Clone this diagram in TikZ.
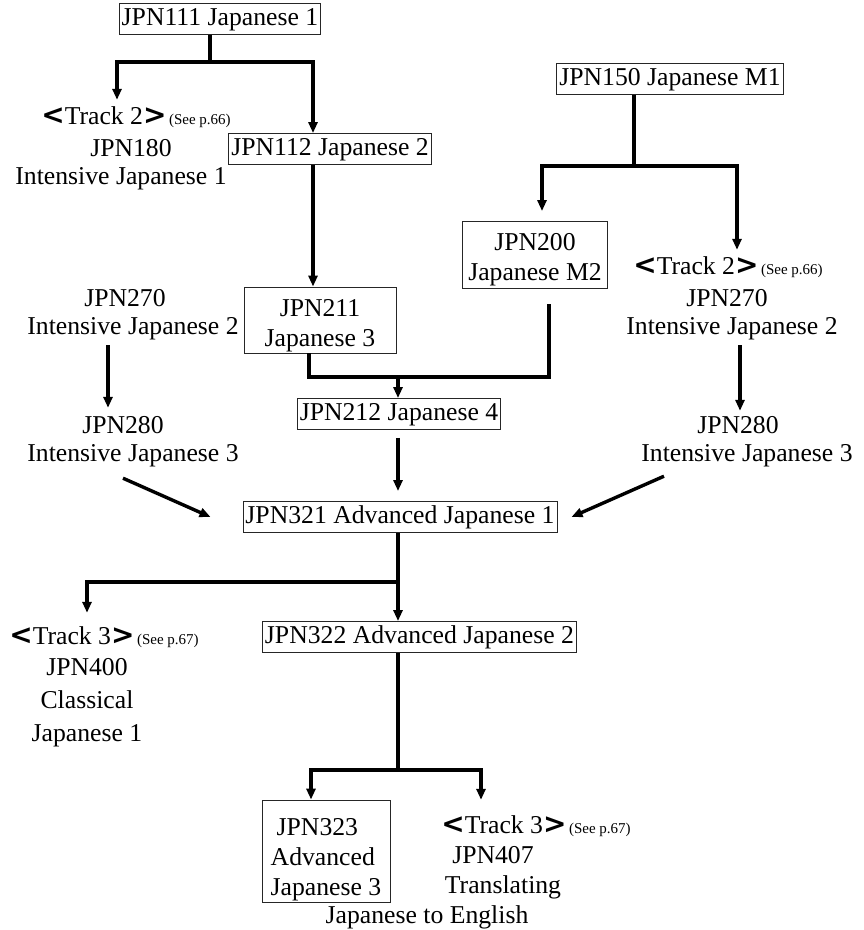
\documentclass[tikz,border=0pt]{standalone}
\usepackage{fontspec}
\setmainfont{Liberation Serif}
\newfontfamily\brkfont{DejaVu Sans}
\usetikzlibrary{arrows.meta,calc}
\newcommand{\Lbrk}{{\brkfont\bfseries\fontsize{28}{30}\selectfont <}}
\newcommand{\Rbrk}{{\brkfont\bfseries\fontsize{28}{30}\selectfont >}}
\newcommand{\seep}[1]{{\fontsize{15}{15}\selectfont\,(See p.#1)}}
\begin{document}
\begin{tikzpicture}[x=1pt,y=-1pt,
  every node/.style={inner sep=0pt, font=\fontsize{25.7}{30}\selectfont},
  txt/.style={text height=18pt, text depth=6pt},
  box/.style={draw=black!85, line width=0.9pt, inner xsep=2.5pt, inner ysep=3.5pt, text height=18pt, text depth=6pt},
  mbox/.style={draw=black!85, line width=0.9pt, align=center},
  conn/.style={line width=3.4pt, line join=miter},
  arr/.style={conn, -{Triangle[length=11pt,width=9pt]}}]
\useasboundingbox (0,0) rectangle (864,930);

% nodes
\node[box] (n111) at (220,19) {JPN111 Japanese 1};
\node[txt] (t2l) at (136,118) {\Lbrk Track 2\Rbrk\seep{66}};
\node[txt] (j180) at (131,150) {JPN180};
\node[txt] (i1) at (121,178) {Intensive Japanese 1};
\node[box] (n112) at (330,149) {JPN112 Japanese 2};
\node[box] (n150) at (670,79) {JPN150 Japanese M1};
\node[mbox, minimum width=145pt, minimum height=67pt] (n200) at (535,255) {\rule{0pt}{26pt}JPN200\\Japanese M2};
\node[txt] (t2r) at (728,268) {\Lbrk Track 2\Rbrk\seep{66}};
\node[txt] (j270r) at (727,300) {JPN270};
\node[txt] (i2r) at (732,328) {Intensive Japanese 2};
\node[txt] (j270l) at (125,300) {JPN270};
\node[txt] (i2l) at (133,328) {Intensive Japanese 2};
\node[mbox, minimum width=152pt, minimum height=66pt] (n211) at (320,320) {\rule{0pt}{28pt}JPN211\\Japanese 3};
\node[box] (n212) at (399,414) {JPN212 Japanese 4};
\node[txt] (j280l) at (123,427) {JPN280};
\node[txt] (i3l) at (133,455) {Intensive Japanese 3};
\node[txt] (j280r) at (738,427) {JPN280};
\node[txt] (i3r) at (747,455) {Intensive Japanese 3};
\node[box] (n321) at (400,517) {JPN321 Advanced Japanese 1};
\node[box] (n322) at (419.5,637) {JPN322 Advanced Japanese 2};
\node[txt] (t3l) at (104,638) {\Lbrk Track 3\Rbrk\seep{67}};
\node[txt] (j400) at (87,669) {JPN400};
\node[txt] (cl) at (87,702) {Classical};
\node[txt] (jp1) at (87,735) {Japanese 1};
\node[mbox, align=left, minimum width=128pt, minimum height=102pt] (n323) at (326,851) {\rule{0pt}{34pt}\hspace{6pt}JPN323\\Advanced\\Japanese 3};
\node[txt] (t3r) at (536,827) {\Lbrk Track 3\Rbrk\seep{67}};
\node[txt] (j407) at (493,857) {JPN407};
\node[txt] (trn) at (503,887) {Translating};
\node[txt] (jte) at (427,917) {Japanese to English};

% helper coordinates
\coordinate (s1) at (210,62);
\coordinate (c313) at (313,0);
\coordinate (s2) at (634,166);
\coordinate (m) at (398,377);
\coordinate (c309) at (309,0);
\coordinate (c549) at (549,0);
\coordinate (c108) at (108,0);
\coordinate (c740) at (740,0);
\coordinate (c398) at (398,0);
\coordinate (s3) at (398,582);
\coordinate (s4) at (398,770);

% connectors
\draw[arr] (n111.south -| s1) -- (s1) -| ($(t2l.north)+(-19,-6)$);
\draw[arr] (s1) -| (n112.north -| c313);
\draw[arr] (n112.south -| c313) -- (n211.north -| c313);

\draw[arr] (n150.south -| s2) -- (s2) -| ($(n200.north)+(7,-10)$);
\draw[arr] (s2) -| ($(t2r.north)+(9,-6)$);

\draw[conn] (n211.south -| c309) |- (m -| c549) -- ($(n200.south -| c549)+(0,15)$);
\draw[arr] (m) -- (n212.north -| m);

\draw[arr] ($(i2l.south -| c108)+(0,5)$) -- ($(j280l.north -| c108)+(0,-7)$);
\draw[arr] ($(i2r.south -| c740)+(0,5)$) -- ($(j280r.north -| c740)+(0,-4)$);

\draw[arr] ($(n212.south -| c398)+(0,8)$) -- ($(n321.north -| c398)+(0,-10)$);
\draw[arr] ($(i3l.south)+(-10,11)$) -- ($(n321.west)+(-32,0)$);
\draw[arr] ($(i3r.south)+(-83,9)$) -- ($(n321.east)+(14,0)$);

\draw[arr] (n321.south -| s3) -- (s3) -| ($(t3l.north)+(-17,-13)$);
\draw[arr] (s3) -- (n322.north -| s3);

\draw[arr] (n322.south -| s4) -- (s4) -| ($(n323.north)+(-15,0)$);
\draw[arr] (s4) -| ($(t3r.north)+(-55,-15)$);
\end{tikzpicture}
\end{document}
